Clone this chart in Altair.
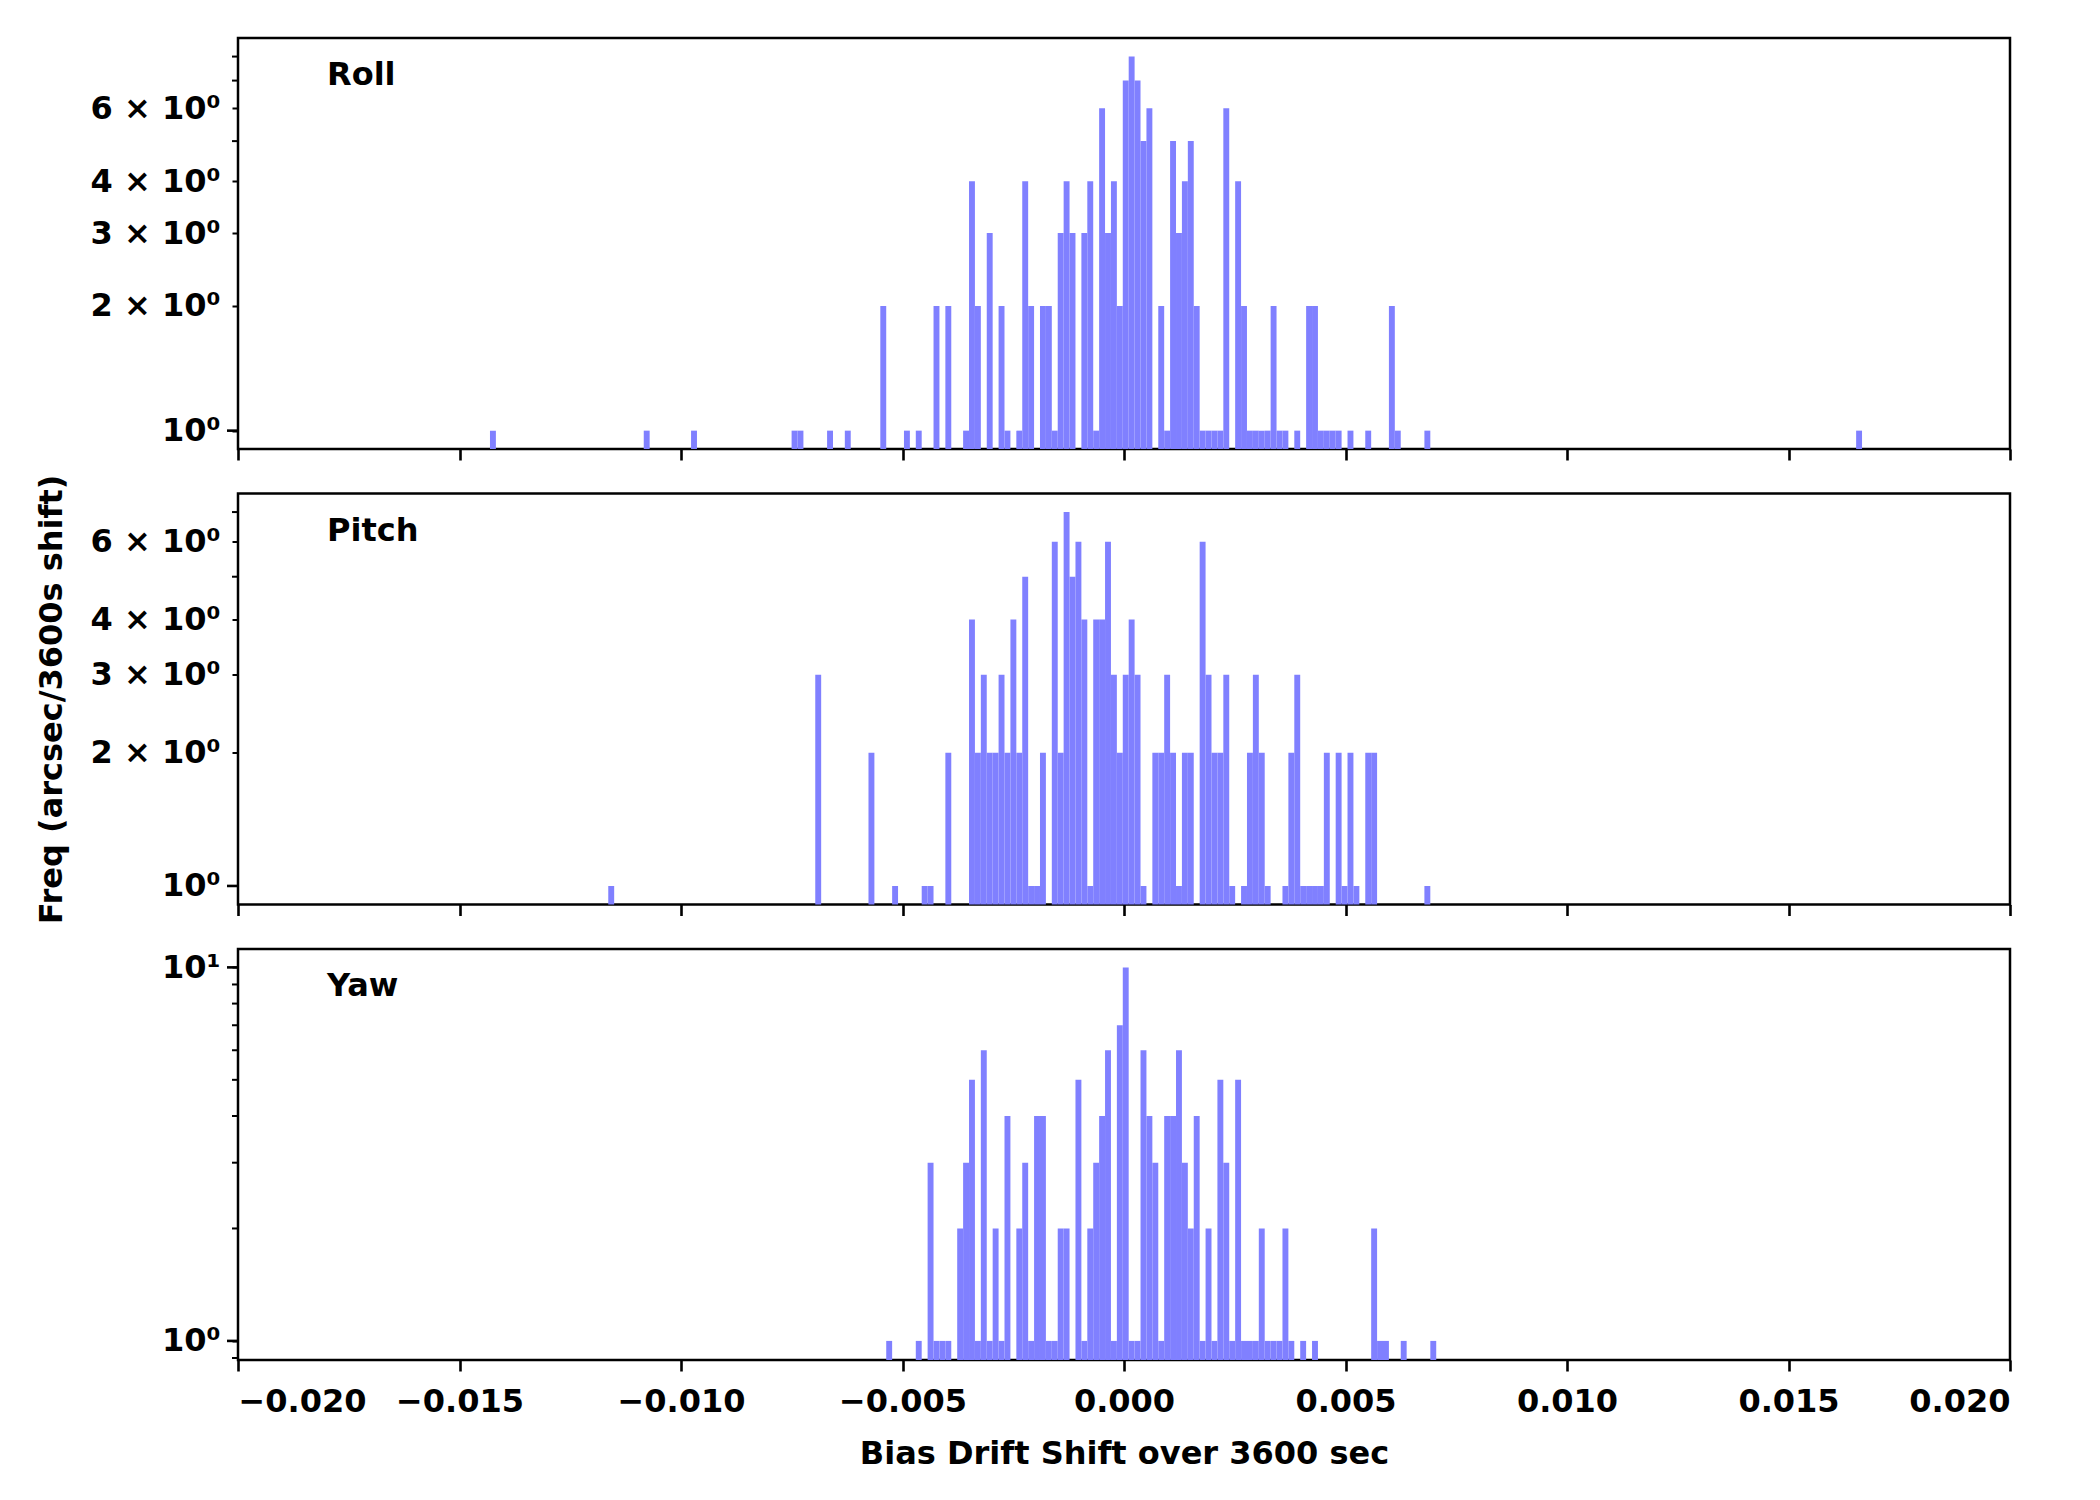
import altair as alt
import pandas as pd

# Histogram bin grid shared by the three panels (bin index -> left edge)
BIN_START = -0.005501
BIN_WIDTH = 0.0001335

roll_bins = [-66, -40, -32, -15, -14, -9, -6,
             0, 4, 6, 9, 11, 14, 15, 16, 18, 20,
             21, 23, 24, 25, 27, 28, 29, 30, 31, 32,
             34, 35, 36, 37, 38, 39, 40, 41, 42, 43,
             44, 45, 47, 48, 49, 50, 51, 52, 53, 54,
             55, 56, 57, 58, 60, 61, 62, 63, 64, 65,
             66, 67, 68, 70, 72, 73, 74, 75, 76, 77,
             79, 82, 86, 87, 92, 165]
roll_counts = [1, 1, 1, 1, 1, 1, 1,
               2, 1, 1, 2, 2, 1, 4, 2, 3, 2,
               1, 1, 4, 2, 2, 2, 1, 3, 4, 3,
               3, 4, 1, 6, 3, 4, 2, 7, 8, 7,
               5, 6, 2, 1, 5, 3, 4, 5, 2, 1,
               1, 1, 1, 6, 4, 2, 1, 1, 1, 1,
               2, 1, 1, 1, 2, 2, 1, 1, 1, 1,
               1, 1, 2, 1, 1, 1]

pitch_bins = [-46, -11, -2, 2, 7, 8, 11,
              15, 16, 17, 18, 19, 20, 21, 22, 23, 24,
              25, 26, 27, 29, 30, 31, 32, 33, 34, 35,
              36, 37, 38, 39, 40, 41, 42, 43, 44, 46,
              47, 48, 49, 50, 51, 52, 54, 55, 56, 57,
              58, 59, 61, 62, 63, 64, 65, 68, 69, 70,
              71, 72, 73, 74, 75, 77, 78, 79, 80, 82,
              83, 92]
pitch_counts = [1, 3, 2, 1, 1, 1, 2,
                4, 2, 3, 2, 2, 3, 2, 4, 2, 5,
                1, 1, 2, 6, 2, 7, 5, 6, 4, 1,
                4, 4, 6, 3, 2, 3, 4, 3, 1, 2,
                2, 3, 2, 1, 2, 2, 6, 3, 2, 2,
                3, 1, 1, 2, 3, 2, 1, 1, 2, 3,
                1, 1, 1, 1, 2, 2, 1, 2, 1, 2,
                2, 1]

yaw_bins = [1, 6, 8, 9, 10, 11, 13, 14, 15, 16,
            17, 18, 19, 20, 21, 23, 24, 25, 26, 27,
            28, 29, 30, 31, 33, 34, 35, 36, 37, 38,
            39, 40, 41, 42, 43, 44, 45, 46, 47, 48,
            49, 50, 51, 52, 53, 54, 55, 56, 57, 58,
            59, 60, 61, 62, 63, 64, 65, 66, 67, 68,
            69, 71, 73, 83, 84, 85, 88, 93]
yaw_counts = [1, 1, 3, 1, 1, 1, 2, 3, 5, 1,
              6, 1, 2, 1, 4, 2, 3, 1, 4, 4,
              1, 1, 2, 2, 5, 1, 2, 3, 4, 6,
              1, 7, 10, 1, 1, 6, 4, 3, 1, 4,
              4, 6, 3, 2, 4, 1, 2, 1, 5, 3,
              1, 5, 1, 1, 1, 2, 1, 1, 1, 2,
              1, 1, 1, 2, 1, 1, 1, 1]

panel_names = ["Roll", "Pitch", "Yaw"]
y_domains = [[0.903, 8.87], [0.908, 7.71], [0.889, 11.2]]
y_labelled = [[1, 2, 3, 4, 6], [1, 2, 3, 4, 6], [1, 10]]
y_minor = [[5, 7, 8], [5, 7], [0.9, 2, 3, 4, 5, 6, 7, 8, 9]]
y_major = [[1], [1], [1, 10]]
x_ticks = [-0.02, -0.015, -0.01, -0.005, 0.0, 0.005, 0.01, 0.015, 0.02]

FONT = "DejaVu Sans"
FS = 32
W, H = 1772, 411
BAR_COLOR = "#8080ff"

LABEL_EXPR = ("datum.value == 1 ? '10\u2070' : datum.value == 10 ? '10\u00b9' : "
              "datum.value + ' \u00d7 10\u2070'")


def make_panel(i, bins, counts):
    left = [BIN_START + b * BIN_WIDTH for b in bins]
    df = pd.DataFrame({
        "left": left,
        "right": [v + BIN_WIDTH for v in left],
        "count": counts,
    })
    yscale = alt.Scale(type="log", domain=y_domains[i], nice=False)
    xscale = alt.Scale(domain=[-0.02, 0.02], nice=False, zero=False)
    last = i == 2
    xaxis = alt.Axis(values=x_ticks, labels=last, format=".3f", tickSize=11,
                     labelPadding=15, titlePadding=21,
                     title="Bias Drift Shift over 3600 sec" if last else None)
    ytitle = "Freq (arcsec/3600s shift)" if i == 1 else None
    yaxis = alt.Axis(values=y_labelled[i], labelExpr=LABEL_EXPR, tickSize=6,
                     tickWidth=2, labelPadding=12, titlePadding=22,
                     title=ytitle)

    bars = alt.Chart(df).mark_bar(color=BAR_COLOR, clip=True, strokeWidth=0).encode(
        x=alt.X("left:Q", scale=xscale, axis=xaxis),
        x2="right:Q",
        y=alt.Y("count:Q", scale=yscale, axis=yaxis),
        y2=alt.datum(0.5),
    )
    minor = alt.Chart(pd.DataFrame({"count": y_minor[i]})).mark_rule(
        color="black", strokeWidth=2).encode(
        y=alt.Y("count:Q", scale=yscale, axis=yaxis),
        x=alt.value(-6), x2=alt.value(0),
    )
    major = alt.Chart(pd.DataFrame({"count": y_major[i]})).mark_rule(
        color="black", strokeWidth=2.6).encode(
        y=alt.Y("count:Q", scale=yscale, axis=yaxis),
        x=alt.value(-11), x2=alt.value(0),
    )
    label = alt.Chart(pd.DataFrame({"name": [panel_names[i]]})).mark_text(
        align="left", baseline="alphabetic", font=FONT, fontSize=FS,
        fontWeight="bold", color="black").encode(
        x=alt.value(89), y=alt.value(47), text="name:N",
    )
    return alt.layer(bars, minor, major, label).properties(width=W, height=H)


panels = [
    make_panel(0, roll_bins, roll_counts),
    make_panel(1, pitch_bins, pitch_counts),
    make_panel(2, yaw_bins, yaw_counts),
]

chart = alt.vconcat(*panels, spacing=44.5, bounds="flush").configure_view(
    stroke="black", strokeWidth=2.5
).configure_axis(
    labelFont=FONT, labelFontSize=FS, labelFontWeight="bold", labelColor="black",
    titleFont=FONT, titleFontSize=FS, titleFontWeight="bold", titleColor="black",
    tickColor="black", tickWidth=2.6, grid=False, domain=False,
).properties(
    padding={"top": 28, "left": 25, "right": 5, "bottom": 5},
    background="white",
)

chart.save("out.html", embed_options={"renderer": "svg", "actions": False})
